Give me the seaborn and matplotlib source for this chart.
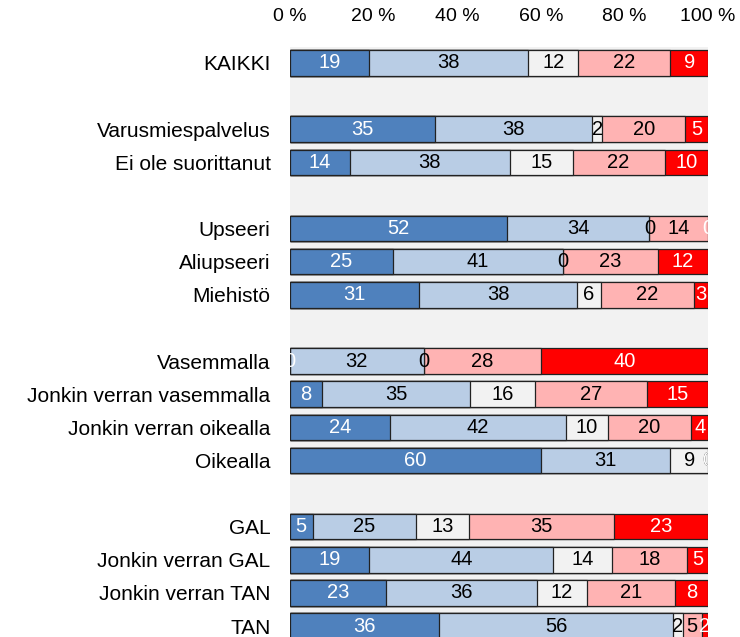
import matplotlib
matplotlib.use("Agg")
import matplotlib.pyplot as plt
import seaborn as sns
import pandas as pd
import numpy as np

# ---- data ----
order = ["KAIKKI", " ", "Varusmiespalvelus", "Ei ole suorittanut", "  ",
         "Upseeri", "Aliupseeri", "Miehistö", "   ",
         "Vasemmalla", "Jonkin verran vasemmalla", "Jonkin verran oikealla", "Oikealla", "    ",
         "GAL", "Jonkin verran GAL", "Jonkin verran TAN", "TAN"]
groups = ["KAIKKI", "Varusmiespalvelus", "Ei ole suorittanut", "Upseeri", "Aliupseeri",
          "Miehistö", "Vasemmalla", "Jonkin verran vasemmalla", "Jonkin verran oikealla",
          "Oikealla", "GAL", "Jonkin verran GAL", "Jonkin verran TAN", "TAN"]
s1 = [19, 34.7, 14.3, 52, 24.6, 30.8, 0, 7.7, 24, 60, 5.4, 19, 23, 35.7]
s2 = [38, 37.6, 38.3, 34, 40.6, 37.9, 32, 35.3, 42, 31, 24.8, 44, 36, 56.0]
s3 = [12, 2.4, 15.0, 0, 0, 5.7, 0, 15.6, 10, 9, 12.6, 14, 12, 2.2]
s4 = [22, 19.9, 22.0, 14, 22.8, 22.2, 28, 26.7, 20, 0, 34.6, 18, 21, 4.6]
s5 = [9, 5.4, 10.4, 0, 12.0, 3.4, 40, 14.7, 4, 0, 22.6, 5, 8, 1.5]
series = [s1, s2, s3, s4, s5]
colors = ["#4F81BD", "#B9CDE5", "#F2F2F2", "#FFB3B3", "#FF0000"]
text_colors = ["white", "black", "black", "black", "white"]
xticks = [0, 20, 40, 60, 80, 100]
xticklabels = ["0 %", "20 %", "40 %", "60 %", "80 %", "100 %"]

sns.set_theme(style="white")
plt.rcParams["font.family"] = ["Liberation Sans", "DejaVu Sans"]

fig = plt.figure(figsize=(7.4, 6.37), dpi=100)
ax = fig.add_axes([290 / 740, 0, 418 / 740, (637 - 47) / 637])
ax.set_facecolor("#F2F2F2")

vals = np.array(series)            # shape (5, n)
cums = np.cumsum(vals, axis=0)

for k in reversed(range(len(series))):
    df = pd.DataFrame({"cat": groups, "cum": cums[k]})
    sns.barplot(data=df, x="cum", y="cat", order=order, orient="h",
                color=colors[k], saturation=1, width=0.77,
                edgecolor="#222222", linewidth=0.9, errorbar=None, ax=ax)

for k in range(len(series)):
    for i, g in enumerate(groups):
        v = vals[k, i]
        pos = order.index(g)
        ax.text(cums[k, i] - v / 2, pos, f"{v:.0f}", ha="center", va="center",
                color=text_colors[k], fontsize=14.5, clip_on=True)

ax.set_xlim(0, 100)
ax.set_ylim(17.33, -0.48)
ax.xaxis.tick_top()
ax.set_xticks(xticks)
ax.set_xticklabels(xticklabels, fontsize=14)
ax.tick_params(axis="x", length=0, pad=16, labelcolor="black")
ax.tick_params(axis="y", length=0, pad=14, labelsize=15, labelcolor="black")
ax.set_xlabel("")
ax.set_ylabel("")
for sp in ax.spines.values():
    sp.set_visible(False)

fig.savefig("out.png", dpi=100)
